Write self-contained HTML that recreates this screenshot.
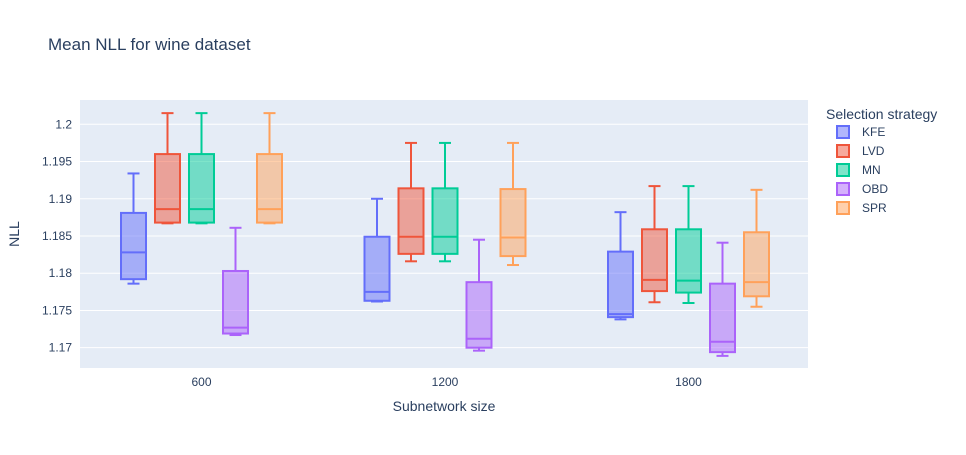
<!DOCTYPE html>
<html><head><meta charset="utf-8"><style>
body{margin:0;background:#fff;font-family:"Liberation Sans",Arial,sans-serif}
</style></head><body>
<svg id="chart" width="966" height="450" xmlns="http://www.w3.org/2000/svg">
<rect x="0" y="0" width="966" height="450" fill="#fff"/>
<rect x="80" y="100" width="728" height="268" fill="#E5ECF6"/>
<g id="grid"></g>
<g id="boxes"></g>
<g id="axes"></g>
<text x="48" y="50" font-size="17" fill="#2a3f5f">Mean NLL for wine dataset</text>
<text x="444" y="411" font-size="14" fill="#2a3f5f" text-anchor="middle">Subnetwork size</text>
<text transform="translate(19,234) rotate(-90)" font-size="14" fill="#2a3f5f" text-anchor="middle">NLL</text>
<text x="826" y="119" font-size="14" fill="#2a3f5f">Selection strategy</text>
<g id="legend"></g>
</svg>
<script>
const categories = ["600","1200","1800"];
const seriesNames = ["KFE","LVD","MN","OBD","SPR"];
// each entry: [lowerWhisker, q1, median, q3, upperWhisker] per category
const kfe = [[1.1786,1.1792,1.1828,1.1881,1.1934],[1.1762,1.1763,1.1775,1.1849,1.1900],[1.1738,1.1741,1.1745,1.1829,1.1882]];
const lvd = [[1.1867,1.1868,1.1886,1.1960,1.2015],[1.1816,1.1826,1.1849,1.1914,1.1975],[1.1761,1.1776,1.1791,1.1859,1.1917]];
const mn  = [[1.1867,1.1868,1.1886,1.1960,1.2015],[1.1816,1.1826,1.1849,1.1914,1.1975],[1.1760,1.1774,1.1790,1.1859,1.1917]];
const obd = [[1.1717,1.1719,1.1727,1.1803,1.1861],[1.1696,1.1700,1.1712,1.1788,1.1845],[1.1689,1.1694,1.1708,1.1786,1.1841]];
const spr = [[1.1867,1.1868,1.1886,1.1960,1.2015],[1.1811,1.1823,1.1848,1.1913,1.1975],[1.1755,1.1769,1.1788,1.1855,1.1912]];
const yTicks = [1.17,1.175,1.18,1.185,1.19,1.195,1.2];
const colors = ["#636efa","#EF553B","#00cc96","#ab63fa","#FFA15A"];
const series = [kfe,lvd,mn,obd,spr];

const NS="http://www.w3.org/2000/svg";
function yS(v){return 124.3+(1.2-v)*7446;}
function xS(ci,si){return 201.5+ci*243.5+(si-2)*34;}
function mk(tag,attrs,parent){const e=document.createElementNS(NS,tag);for(const k in attrs)e.setAttribute(k,attrs[k]);parent.appendChild(e);return e;}

const grid=document.getElementById('grid'),axes=document.getElementById('axes'),boxes=document.getElementById('boxes'),legend=document.getElementById('legend');
yTicks.forEach(t=>{
  const l=mk('line',{x1:80,x2:808,y1:yS(t),y2:yS(t),stroke:'#fff','stroke-width':1},grid);
  
  
  const tx=mk('text',{x:72,y:yS(t)+4,'font-size':12,fill:'#2a3f5f','text-anchor':'end'},axes);
  tx.textContent=String(t);
  
  
});
categories.forEach((c,ci)=>{
  const tx=mk('text',{x:xS(ci,2),y:386,'font-size':12,fill:'#2a3f5f','text-anchor':'middle'},axes);
  tx.textContent=c;
  
  
});
series.forEach((s,si)=>{
  s.forEach((d,ci)=>{
    const cx=xS(ci,si),w=25,col=colors[si];
    const g=mk('g',{},boxes);
    
    
    const [lo,q1,md,q3,hi]=d.map(yS);
    mk('line',{x1:cx,x2:cx,y1:hi,y2:q3,stroke:col,'stroke-width':2},g);
    mk('line',{x1:cx,x2:cx,y1:q1,y2:lo,stroke:col,'stroke-width':2},g);
    mk('line',{x1:cx-6,x2:cx+6,y1:hi,y2:hi,stroke:col,'stroke-width':2},g);
    mk('line',{x1:cx-6,x2:cx+6,y1:lo,y2:lo,stroke:col,'stroke-width':2},g);
    mk('rect',{x:cx-w/2,y:q3,width:w,height:q1-q3,fill:col,'fill-opacity':0.5,stroke:col,'stroke-width':2},g);
    mk('line',{x1:cx-w/2,x2:cx+w/2,y1:md,y2:md,stroke:col,'stroke-width':2},g);
  });
  const ly=132+si*19;
  const lg=mk('g',{},legend);
  
  
  mk('rect',{x:837,y:ly-6,width:12,height:12,fill:colors[si],'fill-opacity':0.5,stroke:colors[si],'stroke-width':2},lg);
  const t=mk('text',{x:862,y:ly+4,'font-size':12,fill:'#2a3f5f'},lg);
  t.textContent=seriesNames[si];
});
</script>
</body></html>
